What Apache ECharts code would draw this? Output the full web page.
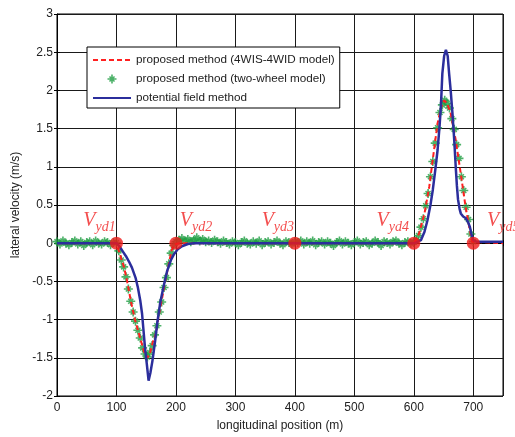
<!DOCTYPE html>
<html>
<head>
<meta charset="utf-8">
<script src="https://cdn.jsdelivr.net/npm/echarts@6/dist/echarts.min.js"></script>
<style>html,body{margin:0;padding:0;background:#fff;}#c{width:515px;height:437px;}</style>
</head>
<body>
<div id="c"></div>
<script>
// ---- data ----
const xTicks = [0, 100, 200, 300, 400, 500, 600, 700];
const yTicks = [-2, -1.5, -1, -0.5, 0, 0.5, 1, 1.5, 2, 2.5, 3];

const seriesNames = ['proposed method (4WIS-4WID model)', 'proposed method (two-wheel model)', 'potential field method'];

// proposed method (4WIS-4WID model)
const redX = [0, 100, 104, 108, 112.6, 118, 124, 131, 138, 146, 152, 156, 161, 166, 171, 176, 182, 187, 192.5, 197, 200, 205,
  600, 605, 609, 618, 626, 634, 640, 646, 651, 656, 662, 670.5, 679, 687, 693, 698, 700, 750];
const redY = [0, 0, -0.1, -0.2, -0.31, -0.5, -0.75, -1.0, -1.19, -1.41, -1.5, -1.45, -1.3, -1.19, -0.95, -0.75, -0.5, -0.31, -0.1, -0.02, 0, 0,
  0, 0.06, 0.13, 0.39, 0.74, 1.22, 1.57, 1.78, 1.87, 1.83, 1.70, 1.35, 0.91, 0.48, 0.22, 0.02, 0, 0];

// proposed method (two-wheel model)
const greenX = [
  0, 5, 10, 15, 20, 25, 30, 35, 40, 45, 50, 55, 60, 65, 70, 75, 80, 85, 90, 95,
  100, 104, 108, 112, 116, 120, 124, 128, 132, 136, 140, 144, 148, 152, 156, 160, 164, 168, 172, 176, 180, 184, 188, 192, 196, 200,
  205, 210, 215, 220, 225, 230, 235, 240, 245, 250,
  255, 260, 265, 270, 275, 280, 285, 290, 295, 300,
  305, 310, 315, 320, 325, 330, 335, 340, 345, 350,
  355, 360, 365, 370, 375, 380, 385, 390, 395, 400,
  405, 410, 415, 420, 425, 430, 435, 440, 445, 450,
  455, 460, 465, 470, 475, 480, 485, 490, 495, 500,
  505, 510, 515, 520, 525, 530, 535, 540, 545, 550,
  555, 560, 565, 570, 575, 580, 585, 590, 595,
  600, 604, 608, 612, 616, 620, 624, 628, 632, 636, 640, 644, 648, 652, 656, 660, 664, 668, 672, 676, 680, 684, 688, 692, 696, 700];
const greenY = [
  0.02, -0.01, 0.03, 0.00, -0.02, 0.01, 0.03, -0.01, 0.02, -0.03, 0.01, 0.02, -0.02, 0.03, 0.00, -0.01, 0.02, 0.01, -0.02, 0.01,
  0.01, -0.1, -0.22, -0.31, -0.44, -0.6, -0.76, -0.9, -1.02, -1.14, -1.24, -1.37, -1.45, -1.49, -1.43, -1.34, -1.2, -1.08, -0.9, -0.77, -0.58, -0.45, -0.27, -0.13, -0.03, 0.02,
  0.04, 0.06, 0.03, 0.05, 0.02, 0.04, 0.07, 0.03, 0.05, 0.02,
  0.03, 0.01, 0.04, 0.02, 0.00, 0.03, 0.01, -0.01, 0.02, 0.01,
  -0.02, 0.01, 0.03, 0.00, -0.01, 0.02, 0.00, 0.03, -0.02, 0.01,
  0.02, -0.01, 0.01, 0.03, 0.00, -0.02, 0.02, 0.01, -0.01, 0.02,
  0.01, 0.03, -0.01, 0.02, 0.00, 0.03, -0.02, 0.01, 0.02, -0.01,
  0.02, 0.00, -0.03, 0.01, 0.03, -0.01, 0.02, 0.00, -0.02, 0.01,
  0.03, -0.01, 0.01, 0.02, -0.02, 0.00, 0.03, 0.01, -0.03, 0.02,
  0.01, -0.01, 0.02, 0.03, 0.00, -0.02, 0.01, 0.02, 0.00,
  0.01, 0.04, 0.1, 0.21, 0.32, 0.49, 0.65, 0.87, 1.07, 1.31, 1.51, 1.71, 1.81, 1.87, 1.83, 1.77, 1.63, 1.49, 1.29, 1.11, 0.87, 0.69, 0.47, 0.31, 0.12, 0.02];

// potential field method
const blueX = [0, 100, 105, 110, 116, 121, 126, 132, 136, 140, 143, 145, 148, 151, 154, 157, 160.5, 165, 169, 174, 180, 185, 191, 197, 203, 210, 220, 230,
  600, 604, 612, 618, 623, 628, 632, 636, 640, 643, 645.5, 648, 651, 654, 657, 659.4, 662, 665, 668, 670.5, 672.5, 674.4, 677, 679, 683, 687, 691, 694, 697, 700, 705, 750];
const blueY = [0, 0, -0.04, -0.1, -0.17, -0.24, -0.32, -0.45, -0.58, -0.75, -0.92, -1.1, -1.37, -1.58, -1.8, -1.7, -1.54, -1.28, -1.02, -0.76, -0.54, -0.37, -0.23, -0.14, -0.08, -0.04, -0.01, 0,
  0, 0.01, 0.04, 0.15, 0.30, 0.5, 0.7, 0.95, 1.22, 1.5, 1.78, 2.22, 2.45, 2.53, 2.45, 2.22, 2.0, 1.7, 1.35, 1.0, 0.75, 0.57, 0.45, 0.39, 0.35, 0.33, 0.28, 0.22, 0.12, 0.04, 0.02, 0.02];

// marked points
const markX = [100, 200, 400, 600, 700];
const markY = [0, 0, 0, 0, 0];
const markSub = ['yd1', 'yd2', 'yd3', 'yd4', 'yd5'];

// ---- styling (not data) ----
const labelOffsets = [[-17, 0], [20, 0], [-17, 0], [-21, 0], [30, 0]];
const FONT = 'Liberation Sans, Arial, sans-serif';
const RED = '#f02222';

function pairs(xs, ys) { return xs.map((x, i) => [x, ys[i]]); }

const starPath = 'path://M-0.9,-5 L0.9,-5 L0.9,5 L-0.9,5 Z M-5,-0.9 L5,-0.9 L5,0.9 L-5,0.9 Z M-3.4,-2.2 L-2.2,-3.4 L3.4,2.2 L2.2,3.4 Z M2.2,-3.4 L3.4,-2.2 L-2.2,3.4 L-3.4,2.2 Z';

const markData = markX.map((x, i) => ({
  value: [x, markY[i]],
  label: {
    show: true,
    position: 'top',
    distance: 6,
    offset: labelOffsets[i],
    formatter: '{v|V}{s|' + markSub[i] + '}'
  }
}));

const chart = echarts.init(document.getElementById('c'), null, { renderer: 'canvas' });
chart.setOption({
  animation: false,
  backgroundColor: '#fff',
  grid: { left: 57, right: 12, top: 14, bottom: 39, show: true, borderColor: '#000', borderWidth: 1, backgroundColor: 'transparent' },
  legend: {
    left: 87, top: 47, orient: 'vertical',
    data: [
      { name: seriesNames[0], itemStyle: { opacity: 0 } },
      { name: seriesNames[1] },
      { name: seriesNames[2], itemStyle: { opacity: 0 } }
    ],
    backgroundColor: '#fff', borderColor: '#000', borderWidth: 1,
    padding: [6, 5, 3, 5],
    itemWidth: 38, itemHeight: 9, itemGap: 5,
    textStyle: { fontFamily: FONT, fontSize: 11.7, color: '#222', lineHeight: 14 },
    selectedMode: false
  },
  xAxis: [{
    type: 'value', min: 0, max: 750, interval: 100,
    name: 'longitudinal position (m)', nameLocation: 'middle', nameGap: 24,
    nameTextStyle: { fontFamily: FONT, fontSize: 12, color: '#222' },
    axisLine: { show: true, lineStyle: { color: '#000', width: 1 } },
    axisTick: { show: true, inside: true, length: 3, lineStyle: { color: '#000' } },
    axisLabel: { fontFamily: FONT, fontSize: 12, color: '#222', margin: 6, formatter: v => (xTicks.indexOf(v) >= 0 ? String(v) : '') },
    splitLine: { show: true, lineStyle: { color: '#1a1a1a', width: 1 } }
  }, {
    type: 'value', min: 0, max: 750, interval: 100, position: 'top',
    axisLine: { show: false }, axisTick: { show: true, inside: true, length: 3, lineStyle: { color: '#000' } },
    axisLabel: { show: false }, splitLine: { show: false }
  }],
  yAxis: [{
    type: 'value', min: -2, max: 3, interval: 0.5,
    name: 'lateral velocity (m/s)', nameLocation: 'middle', nameGap: 31,
    nameTextStyle: { fontFamily: FONT, fontSize: 12, color: '#222' },
    axisLine: { show: true, lineStyle: { color: '#000', width: 1 } },
    axisTick: { show: true, inside: true, length: 3, lineStyle: { color: '#000' } },
    axisLabel: { fontFamily: FONT, fontSize: 12, color: '#222', margin: 4, formatter: v => (yTicks.indexOf(v) >= 0 ? String(v) : '') },
    splitLine: { show: true, lineStyle: { color: '#1a1a1a', width: 1 } }
  }, {
    type: 'value', min: -2, max: 3, interval: 0.5, position: 'right',
    axisLine: { show: false }, axisTick: { show: true, inside: true, length: 3, lineStyle: { color: '#000' } },
    axisLabel: { show: false }, splitLine: { show: false }
  }],
  series: [
    {
      name: seriesNames[1], type: 'scatter', z: 2,
      symbol: starPath, symbolSize: 9,
      itemStyle: { color: '#1f9e42' },
      data: pairs(greenX, greenY)
    },
    {
      name: seriesNames[0], type: 'line', z: 3,
      symbol: 'none', showSymbol: false,
      lineStyle: { color: '#ff2020', width: 2, type: [5, 3] },
      itemStyle: { color: '#ff2020' },
      data: pairs(redX, redY)
    },
    {
      name: seriesNames[2], type: 'line', z: 4,
      symbol: 'none', showSymbol: false,
      lineStyle: { color: '#2b2e9c', width: 2.5 },
      itemStyle: { color: '#2b2e9c' },
      data: pairs(blueX, blueY)
    },
    {
      name: 'marks', type: 'scatter', z: 5,
      symbol: 'circle', symbolSize: 13,
      itemStyle: { color: '#f01a1a' },
      label: {
        rich: {
          v: { fontFamily: 'Liberation Serif, serif', fontStyle: 'italic', fontSize: 20, color: RED, verticalAlign: 'top', lineHeight: 20 },
          s: { fontFamily: 'Liberation Serif, serif', fontStyle: 'italic', fontSize: 14, color: RED, verticalAlign: 'top', lineHeight: 14, padding: [10, 0, 0, 0] }
        }
      },
      data: markData
    }
  ]
});
</script>
</body>
</html>
